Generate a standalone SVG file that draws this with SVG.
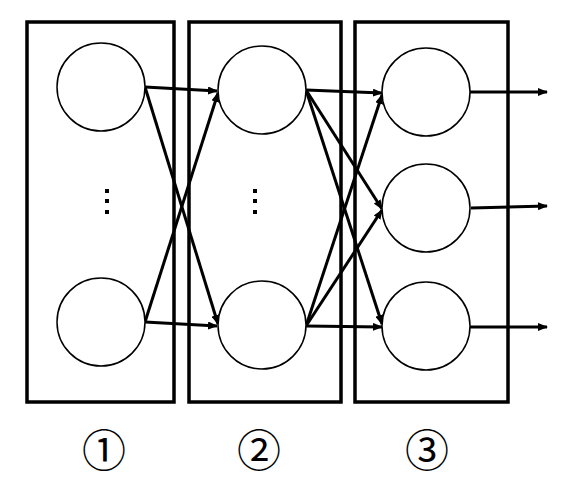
<svg xmlns="http://www.w3.org/2000/svg" width="561" height="492" viewBox="0 0 561 492">
<style>
.box{fill:none;stroke:#000;stroke-width:3.5}
.node{fill:#fff;stroke:#000;stroke-width:1.5}
.edge{stroke:#000;stroke-width:3;fill:none;marker-end:url(#ah)}
.dot{fill:#000}
.lbl{font-family:"Noto Sans CJK JP","DejaVu Sans",sans-serif;font-size:44px;text-anchor:middle;fill:#000}
</style>
<defs>
<marker id="ah" markerWidth="10" markerHeight="8" refX="9" refY="4" orient="auto" markerUnits="userSpaceOnUse">
<path d="M0,0 L10,4 L0,8 Z" fill="#000"/>
</marker>
</defs>
<rect width="561" height="492" fill="#fff"/>
<g id="layer1"><rect class="box" x="27" y="22" width="147" height="380"/></g>
<g id="layer2"><rect class="box" x="189" y="22" width="152" height="380"/></g>
<g id="layer3"><rect class="box" x="355" y="22" width="153" height="380"/></g>
<g id="connectors">
<line class="edge" x1="145" y1="87" x2="217" y2="91"/>
<line class="edge" x1="145" y1="87" x2="218" y2="324"/>
<line class="edge" x1="145" y1="322" x2="218" y2="93"/>
<line class="edge" x1="145" y1="322" x2="217" y2="326"/>
<line class="edge" x1="306" y1="90" x2="382" y2="93"/>
<line class="edge" x1="306" y1="90" x2="382" y2="209"/>
<line class="edge" x1="306" y1="90" x2="382" y2="324"/>
<line class="edge" x1="306" y1="326" x2="382" y2="95"/>
<line class="edge" x1="306" y1="326" x2="382" y2="210"/>
<line class="edge" x1="306" y1="326" x2="382" y2="327"/>
<line class="edge" x1="470" y1="92" x2="547" y2="92"/>
<line class="edge" x1="471" y1="208" x2="547" y2="206"/>
<line class="edge" x1="470" y1="327" x2="547" y2="327"/>
</g>
<g id="n1a"><circle class="node" cx="101" cy="87" r="44"/></g>
<g id="n1b"><circle class="node" cx="101" cy="322" r="44"/></g>
<g id="n2a"><circle class="node" cx="262" cy="90" r="44"/></g>
<g id="n2b"><circle class="node" cx="262" cy="325" r="44"/></g>
<g id="n3a"><circle class="node" cx="426" cy="92" r="44"/></g>
<g id="n3b"><circle class="node" cx="426" cy="208" r="44"/></g>
<g id="n3c"><circle class="node" cx="426" cy="326" r="44"/></g>
<g id="dots1"><rect class="dot" x="105" y="189" width="4" height="4"/><rect class="dot" x="105" y="199" width="4" height="4"/><rect class="dot" x="105" y="210" width="4" height="4"/></g>
<g id="dots2"><rect class="dot" x="253" y="189" width="4" height="4"/><rect class="dot" x="253" y="199" width="4" height="4"/><rect class="dot" x="253" y="210" width="4" height="4"/></g>
<g id="labels">
<text class="lbl" x="104" y="467">①</text>
<text class="lbl" x="259" y="467">②</text>
<text class="lbl" x="427" y="467">③</text>
</g>
</svg>
